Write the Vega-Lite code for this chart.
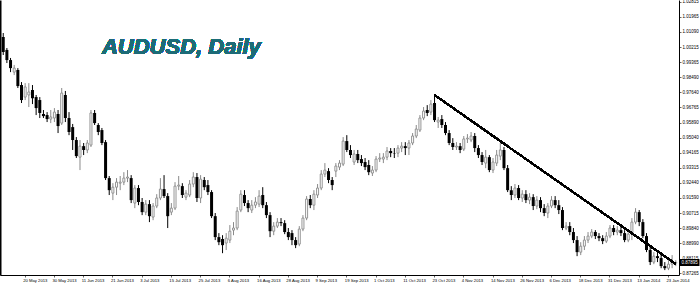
{
"$schema":"https://vega.github.io/schema/vega-lite/v6.json",
"width":679,"height":275,
"autosize":{"type":"none"},
"padding":{"left":0,"top":0,"right":21,"bottom":10},
"background":"white",
"config":{"view":{"stroke":null}},
"data":{"values":[
{"d":"2013-05-10","o":1.0080,"h":1.0103,"l":0.9977,"c":0.9994},
{"d":"2013-05-13","o":1.0006,"h":1.0017,"l":0.9931,"c":0.9948},
{"d":"2013-05-14","o":0.9948,"h":0.9960,"l":0.9879,"c":0.9902},
{"d":"2013-05-15","o":0.9879,"h":0.9920,"l":0.9862,"c":0.9902},
{"d":"2013-05-16","o":0.9891,"h":0.9902,"l":0.9788,"c":0.9799},
{"d":"2013-05-17","o":0.9805,"h":0.9822,"l":0.9702,"c":0.9719},
{"d":"2013-05-20","o":0.9736,"h":0.9816,"l":0.9719,"c":0.9794},
{"d":"2013-05-21","o":0.9748,"h":0.9816,"l":0.9679,"c":0.9765},
{"d":"2013-05-22","o":0.9776,"h":0.9805,"l":0.9696,"c":0.9730},
{"d":"2013-05-23","o":0.9736,"h":0.9748,"l":0.9633,"c":0.9673},
{"d":"2013-05-24","o":0.9719,"h":0.9736,"l":0.9616,"c":0.9645},
{"d":"2013-05-27","o":0.9639,"h":0.9662,"l":0.9616,"c":0.9627},
{"d":"2013-05-28","o":0.9633,"h":0.9650,"l":0.9593,"c":0.9610},
{"d":"2013-05-29","o":0.9610,"h":0.9662,"l":0.9587,"c":0.9622},
{"d":"2013-05-30","o":0.9616,"h":0.9673,"l":0.9593,"c":0.9650},
{"d":"2013-05-31","o":0.9639,"h":0.9662,"l":0.9530,"c":0.9570},
{"d":"2013-06-03","o":0.9587,"h":0.9788,"l":0.9576,"c":0.9759},
{"d":"2013-06-04","o":0.9748,"h":0.9771,"l":0.9593,"c":0.9616},
{"d":"2013-06-05","o":0.9616,"h":0.9650,"l":0.9518,"c":0.9536},
{"d":"2013-06-06","o":0.9564,"h":0.9582,"l":0.9433,"c":0.9490},
{"d":"2013-06-07","o":0.9490,"h":0.9507,"l":0.9387,"c":0.9398},
{"d":"2013-06-10","o":0.9392,"h":0.9490,"l":0.9318,"c":0.9455},
{"d":"2013-06-11","o":0.9455,"h":0.9473,"l":0.9404,"c":0.9433},
{"d":"2013-06-12","o":0.9433,"h":0.9490,"l":0.9415,"c":0.9473},
{"d":"2013-06-13","o":0.9461,"h":0.9662,"l":0.9450,"c":0.9645},
{"d":"2013-06-14","o":0.9645,"h":0.9662,"l":0.9576,"c":0.9587},
{"d":"2013-06-17","o":0.9576,"h":0.9587,"l":0.9518,"c":0.9536},
{"d":"2013-06-18","o":0.9547,"h":0.9559,"l":0.9461,"c":0.9473},
{"d":"2013-06-19","o":0.9478,"h":0.9490,"l":0.9261,"c":0.9272},
{"d":"2013-06-20","o":0.9272,"h":0.9284,"l":0.9175,"c":0.9203},
{"d":"2013-06-21","o":0.9186,"h":0.9243,"l":0.9146,"c":0.9220},
{"d":"2013-06-24","o":0.9220,"h":0.9272,"l":0.9175,"c":0.9249},
{"d":"2013-06-25","o":0.9243,"h":0.9284,"l":0.9203,"c":0.9249},
{"d":"2013-06-26","o":0.9249,"h":0.9306,"l":0.9232,"c":0.9272},
{"d":"2013-06-27","o":0.9272,"h":0.9318,"l":0.9249,"c":0.9278},
{"d":"2013-06-28","o":0.9272,"h":0.9289,"l":0.9129,"c":0.9146},
{"d":"2013-07-01","o":0.9129,"h":0.9232,"l":0.9100,"c":0.9215},
{"d":"2013-07-02","o":0.9215,"h":0.9232,"l":0.9117,"c":0.9135},
{"d":"2013-07-03","o":0.9135,"h":0.9158,"l":0.9060,"c":0.9077},
{"d":"2013-07-04","o":0.9077,"h":0.9146,"l":0.9060,"c":0.9123},
{"d":"2013-07-05","o":0.9123,"h":0.9146,"l":0.9020,"c":0.9054},
{"d":"2013-07-08","o":0.9049,"h":0.9129,"l":0.9031,"c":0.9112},
{"d":"2013-07-09","o":0.9112,"h":0.9180,"l":0.9100,"c":0.9158},
{"d":"2013-07-10","o":0.9158,"h":0.9272,"l":0.9146,"c":0.9209},
{"d":"2013-07-11","o":0.9209,"h":0.9289,"l":0.9158,"c":0.9169},
{"d":"2013-07-12","o":0.9169,"h":0.9186,"l":0.8986,"c":0.9054},
{"d":"2013-07-15","o":0.9077,"h":0.9129,"l":0.9060,"c":0.9100},
{"d":"2013-07-16","o":0.9100,"h":0.9249,"l":0.9089,"c":0.9226},
{"d":"2013-07-17","o":0.9226,"h":0.9284,"l":0.9203,"c":0.9232},
{"d":"2013-07-18","o":0.9226,"h":0.9243,"l":0.9158,"c":0.9175},
{"d":"2013-07-19","o":0.9163,"h":0.9203,"l":0.9146,"c":0.9186},
{"d":"2013-07-22","o":0.9175,"h":0.9261,"l":0.9163,"c":0.9238},
{"d":"2013-07-23","o":0.9238,"h":0.9306,"l":0.9220,"c":0.9278},
{"d":"2013-07-24","o":0.9278,"h":0.9301,"l":0.9135,"c":0.9158},
{"d":"2013-07-25","o":0.9158,"h":0.9289,"l":0.9129,"c":0.9266},
{"d":"2013-07-26","o":0.9261,"h":0.9278,"l":0.9203,"c":0.9220},
{"d":"2013-07-29","o":0.9232,"h":0.9261,"l":0.9175,"c":0.9192},
{"d":"2013-07-30","o":0.9192,"h":0.9203,"l":0.9043,"c":0.9054},
{"d":"2013-07-31","o":0.9054,"h":0.9072,"l":0.8917,"c":0.8934},
{"d":"2013-08-01","o":0.8934,"h":0.8957,"l":0.8888,"c":0.8905},
{"d":"2013-08-02","o":0.8923,"h":0.8945,"l":0.8842,"c":0.8888},
{"d":"2013-08-05","o":0.8900,"h":0.8957,"l":0.8860,"c":0.8928},
{"d":"2013-08-06","o":0.8917,"h":0.9003,"l":0.8900,"c":0.8968},
{"d":"2013-08-07","o":0.8974,"h":0.9020,"l":0.8945,"c":0.8986},
{"d":"2013-08-08","o":0.8986,"h":0.9106,"l":0.8974,"c":0.9083},
{"d":"2013-08-09","o":0.9089,"h":0.9203,"l":0.9077,"c":0.9180},
{"d":"2013-08-12","o":0.9175,"h":0.9203,"l":0.9112,"c":0.9129},
{"d":"2013-08-13","o":0.9129,"h":0.9146,"l":0.9077,"c":0.9100},
{"d":"2013-08-14","o":0.9089,"h":0.9146,"l":0.9072,"c":0.9117},
{"d":"2013-08-15","o":0.9117,"h":0.9163,"l":0.9100,"c":0.9135},
{"d":"2013-08-16","o":0.9123,"h":0.9203,"l":0.9106,"c":0.9169},
{"d":"2013-08-19","o":0.9175,"h":0.9220,"l":0.9100,"c":0.9117},
{"d":"2013-08-20","o":0.9117,"h":0.9135,"l":0.9043,"c":0.9060},
{"d":"2013-08-21","o":0.9060,"h":0.9077,"l":0.8934,"c":0.8968},
{"d":"2013-08-22","o":0.8968,"h":0.9020,"l":0.8945,"c":0.8997},
{"d":"2013-08-23","o":0.8997,"h":0.9043,"l":0.8986,"c":0.9020},
{"d":"2013-08-26","o":0.9020,"h":0.9043,"l":0.8997,"c":0.9014},
{"d":"2013-08-27","o":0.9014,"h":0.9031,"l":0.8951,"c":0.8963},
{"d":"2013-08-28","o":0.8963,"h":0.8986,"l":0.8917,"c":0.8934},
{"d":"2013-08-29","o":0.8957,"h":0.8974,"l":0.8888,"c":0.8917},
{"d":"2013-08-30","o":0.8917,"h":0.8934,"l":0.8871,"c":0.8888},
{"d":"2013-09-02","o":0.8894,"h":0.8997,"l":0.8882,"c":0.8980},
{"d":"2013-09-03","o":0.8980,"h":0.9060,"l":0.8968,"c":0.9043},
{"d":"2013-09-04","o":0.9043,"h":0.9169,"l":0.9031,"c":0.9152},
{"d":"2013-09-05","o":0.9152,"h":0.9175,"l":0.9100,"c":0.9117},
{"d":"2013-09-06","o":0.9117,"h":0.9203,"l":0.9089,"c":0.9180},
{"d":"2013-09-09","o":0.9175,"h":0.9238,"l":0.9158,"c":0.9215},
{"d":"2013-09-10","o":0.9215,"h":0.9318,"l":0.9203,"c":0.9295},
{"d":"2013-09-11","o":0.9295,"h":0.9358,"l":0.9278,"c":0.9318},
{"d":"2013-09-12","o":0.9312,"h":0.9329,"l":0.9243,"c":0.9261},
{"d":"2013-09-13","o":0.9261,"h":0.9278,"l":0.9203,"c":0.9232},
{"d":"2013-09-16","o":0.9312,"h":0.9358,"l":0.9278,"c":0.9341},
{"d":"2013-09-17","o":0.9335,"h":0.9375,"l":0.9318,"c":0.9358},
{"d":"2013-09-18","o":0.9352,"h":0.9507,"l":0.9341,"c":0.9484},
{"d":"2013-09-19","o":0.9484,"h":0.9518,"l":0.9421,"c":0.9433},
{"d":"2013-09-20","o":0.9433,"h":0.9461,"l":0.9387,"c":0.9404},
{"d":"2013-09-23","o":0.9364,"h":0.9433,"l":0.9347,"c":0.9410},
{"d":"2013-09-24","o":0.9410,"h":0.9433,"l":0.9358,"c":0.9375},
{"d":"2013-09-25","o":0.9381,"h":0.9404,"l":0.9341,"c":0.9358},
{"d":"2013-09-26","o":0.9364,"h":0.9387,"l":0.9318,"c":0.9335},
{"d":"2013-09-27","o":0.9347,"h":0.9375,"l":0.9289,"c":0.9306},
{"d":"2013-09-30","o":0.9301,"h":0.9341,"l":0.9284,"c":0.9318},
{"d":"2013-10-01","o":0.9318,"h":0.9398,"l":0.9306,"c":0.9381},
{"d":"2013-10-02","o":0.9381,"h":0.9415,"l":0.9364,"c":0.9387},
{"d":"2013-10-03","o":0.9381,"h":0.9415,"l":0.9358,"c":0.9392},
{"d":"2013-10-04","o":0.9392,"h":0.9450,"l":0.9375,"c":0.9427},
{"d":"2013-10-07","o":0.9427,"h":0.9444,"l":0.9392,"c":0.9415},
{"d":"2013-10-08","o":0.9415,"h":0.9444,"l":0.9387,"c":0.9413},
{"d":"2013-10-09","o":0.9415,"h":0.9461,"l":0.9392,"c":0.9444},
{"d":"2013-10-10","o":0.9444,"h":0.9478,"l":0.9421,"c":0.9455},
{"d":"2013-10-11","o":0.9455,"h":0.9478,"l":0.9404,"c":0.9444},
{"d":"2013-10-14","o":0.9444,"h":0.9490,"l":0.9404,"c":0.9473},
{"d":"2013-10-15","o":0.9473,"h":0.9530,"l":0.9461,"c":0.9513},
{"d":"2013-10-16","o":0.9513,"h":0.9576,"l":0.9501,"c":0.9553},
{"d":"2013-10-17","o":0.9547,"h":0.9633,"l":0.9536,"c":0.9616},
{"d":"2013-10-18","o":0.9616,"h":0.9679,"l":0.9604,"c":0.9656},
{"d":"2013-10-21","o":0.9662,"h":0.9690,"l":0.9627,"c":0.9645},
{"d":"2013-10-22","o":0.9650,"h":0.9719,"l":0.9633,"c":0.9696},
{"d":"2013-10-23","o":0.9702,"h":0.9748,"l":0.9593,"c":0.9604},
{"d":"2013-10-24","o":0.9593,"h":0.9622,"l":0.9559,"c":0.9604},
{"d":"2013-10-25","o":0.9610,"h":0.9633,"l":0.9559,"c":0.9576},
{"d":"2013-10-28","o":0.9576,"h":0.9593,"l":0.9518,"c":0.9530},
{"d":"2013-10-29","o":0.9530,"h":0.9547,"l":0.9461,"c":0.9473},
{"d":"2013-10-30","o":0.9473,"h":0.9501,"l":0.9433,"c":0.9450},
{"d":"2013-10-31","o":0.9450,"h":0.9478,"l":0.9433,"c":0.9455},
{"d":"2013-11-01","o":0.9455,"h":0.9473,"l":0.9415,"c":0.9433},
{"d":"2013-11-04","o":0.9438,"h":0.9513,"l":0.9427,"c":0.9496},
{"d":"2013-11-05","o":0.9496,"h":0.9524,"l":0.9473,"c":0.9501},
{"d":"2013-11-06","o":0.9490,"h":0.9536,"l":0.9478,"c":0.9513},
{"d":"2013-11-07","o":0.9513,"h":0.9530,"l":0.9421,"c":0.9444},
{"d":"2013-11-08","o":0.9444,"h":0.9461,"l":0.9387,"c":0.9404},
{"d":"2013-11-11","o":0.9404,"h":0.9421,"l":0.9347,"c":0.9364},
{"d":"2013-11-12","o":0.9358,"h":0.9433,"l":0.9329,"c":0.9392},
{"d":"2013-11-13","o":0.9392,"h":0.9404,"l":0.9306,"c":0.9318},
{"d":"2013-11-14","o":0.9318,"h":0.9387,"l":0.9301,"c":0.9364},
{"d":"2013-11-15","o":0.9358,"h":0.9433,"l":0.9341,"c":0.9404},
{"d":"2013-11-18","o":0.9398,"h":0.9473,"l":0.9375,"c":0.9433},
{"d":"2013-11-19","o":0.9433,"h":0.9450,"l":0.9318,"c":0.9329},
{"d":"2013-11-20","o":0.9329,"h":0.9347,"l":0.9192,"c":0.9203},
{"d":"2013-11-21","o":0.9203,"h":0.9226,"l":0.9146,"c":0.9175},
{"d":"2013-11-22","o":0.9175,"h":0.9238,"l":0.9158,"c":0.9215},
{"d":"2013-11-25","o":0.9215,"h":0.9232,"l":0.9146,"c":0.9158},
{"d":"2013-11-26","o":0.9158,"h":0.9203,"l":0.9135,"c":0.9180},
{"d":"2013-11-27","o":0.9180,"h":0.9203,"l":0.9129,"c":0.9146},
{"d":"2013-11-28","o":0.9146,"h":0.9186,"l":0.9123,"c":0.9163},
{"d":"2013-11-29","o":0.9163,"h":0.9180,"l":0.9089,"c":0.9112},
{"d":"2013-12-02","o":0.9112,"h":0.9169,"l":0.9094,"c":0.9146},
{"d":"2013-12-03","o":0.9146,"h":0.9163,"l":0.9077,"c":0.9100},
{"d":"2013-12-04","o":0.9100,"h":0.9123,"l":0.9054,"c":0.9072},
{"d":"2013-12-05","o":0.9072,"h":0.9129,"l":0.9043,"c":0.9112},
{"d":"2013-12-06","o":0.9112,"h":0.9169,"l":0.9100,"c":0.9146},
{"d":"2013-12-09","o":0.9146,"h":0.9169,"l":0.9100,"c":0.9117},
{"d":"2013-12-10","o":0.9117,"h":0.9146,"l":0.9066,"c":0.9089},
{"d":"2013-12-11","o":0.9089,"h":0.9106,"l":0.8974,"c":0.8986},
{"d":"2013-12-12","o":0.8986,"h":0.9020,"l":0.8974,"c":0.8997},
{"d":"2013-12-13","o":0.8997,"h":0.9020,"l":0.8945,"c":0.8963},
{"d":"2013-12-16","o":0.8963,"h":0.8986,"l":0.8900,"c":0.8917},
{"d":"2013-12-17","o":0.8917,"h":0.8940,"l":0.8825,"c":0.8848},
{"d":"2013-12-18","o":0.8848,"h":0.8905,"l":0.8831,"c":0.8882},
{"d":"2013-12-19","o":0.8882,"h":0.8940,"l":0.8860,"c":0.8917},
{"d":"2013-12-20","o":0.8917,"h":0.8963,"l":0.8900,"c":0.8940},
{"d":"2013-12-23","o":0.8940,"h":0.8980,"l":0.8928,"c":0.8963},
{"d":"2013-12-24","o":0.8963,"h":0.8974,"l":0.8923,"c":0.8940},
{"d":"2013-12-26","o":0.8940,"h":0.8957,"l":0.8911,"c":0.8928},
{"d":"2013-12-27","o":0.8928,"h":0.8945,"l":0.8894,"c":0.8911},
{"d":"2013-12-30","o":0.8911,"h":0.8963,"l":0.8900,"c":0.8940},
{"d":"2013-12-31","o":0.8940,"h":0.9003,"l":0.8928,"c":0.8986},
{"d":"2014-01-02","o":0.8986,"h":0.9003,"l":0.8945,"c":0.8963},
{"d":"2014-01-03","o":0.8963,"h":0.8997,"l":0.8945,"c":0.8974},
{"d":"2014-01-06","o":0.8974,"h":0.8991,"l":0.8940,"c":0.8957},
{"d":"2014-01-07","o":0.8957,"h":0.8974,"l":0.8905,"c":0.8917},
{"d":"2014-01-08","o":0.8917,"h":0.8974,"l":0.8905,"c":0.8951},
{"d":"2014-01-09","o":0.8951,"h":0.9043,"l":0.8917,"c":0.9020},
{"d":"2014-01-10","o":0.9020,"h":0.9100,"l":0.9008,"c":0.9077},
{"d":"2014-01-13","o":0.9077,"h":0.9089,"l":0.8997,"c":0.9020},
{"d":"2014-01-14","o":0.9020,"h":0.9037,"l":0.8928,"c":0.8940},
{"d":"2014-01-15","o":0.8940,"h":0.8957,"l":0.8848,"c":0.8860},
{"d":"2014-01-16","o":0.8860,"h":0.8877,"l":0.8774,"c":0.8791},
{"d":"2014-01-17","o":0.8791,"h":0.8848,"l":0.8779,"c":0.8825},
{"d":"2014-01-20","o":0.8825,"h":0.8860,"l":0.8791,"c":0.8814},
{"d":"2014-01-21","o":0.8814,"h":0.8837,"l":0.8756,"c":0.8768},
{"d":"2014-01-22","o":0.8768,"h":0.8791,"l":0.8745,"c":0.8756},
{"d":"2014-01-23","o":0.8756,"h":0.8814,"l":0.8745,"c":0.8779},
{"d":"2014-01-24","o":0.8779,"h":0.8831,"l":0.8756,"c":0.8791},
{"d":"2014-01-27","o":0.8785,"h":0.8802,"l":0.8768,"c":0.87895}
]},
"layer":[
{"mark":{"type":"rule","strokeWidth":1},
 "encoding":{
  "x":{"field":"d","type":"ordinal","sort":"ascending",
       "scale":{"type":"band","paddingInner":0,"paddingOuter":0.385},
       "axis":{"orient":"bottom","title":null,"values":["2013-05-20","2013-05-30","2013-06-11","2013-06-21","2013-07-03","2013-07-15","2013-07-25","2013-08-06","2013-08-16","2013-08-28","2013-09-09","2013-09-19","2013-10-01","2013-10-11","2013-10-23","2013-11-04","2013-11-14","2013-11-26","2013-12-06","2013-12-18","2013-12-31","2014-01-13","2014-01-23"],
        "labelExpr":"utcFormat(toDate(datum.value), '%-d %b %Y')",
        "labelAngle":0,"labelAlign":"left","labelBaseline":"top","labelOffset":-2,"labelPadding":1,"labelOverlap":false,
        "labelFont":"Liberation Sans","labelFontSize":4.2,"labelColor":"#000000",
        "ticks":true,"tickSize":2,"tickColor":"#000000","tickWidth":0.6,
        "domain":true,"domainColor":"#000000","domainWidth":1,"grid":false}},
  "y":{"field":"l","type":"quantitative",
       "scale":{"domain":[0.8717,1.0292],"nice":false,"zero":false},
       "axis":{"orient":"left","title":null,"labels":false,"ticks":false,"grid":false,"domain":true,"domainColor":"#000000","domainWidth":2}},
  "y2":{"field":"h"},
  "color":{"condition":{"test":"datum.c >= datum.o","value":"#8a8a8a"},"value":"#000000"}
 }},
{"transform":[{"filter":"datum.c >= datum.o"}],
 "mark":{"type":"bar","size":2,"fill":"#ffffff","stroke":"#8a8a8a","strokeWidth":0.9},
 "encoding":{
  "x":{"field":"d","type":"ordinal","sort":"ascending"},
  "y":{"field":"o","type":"quantitative",
       "axis":{"orient":"right","title":null,"values":[1.02815,1.01965,1.0109,1.00215,0.99365,0.9849,0.9764,0.96765,0.9589,0.9504,0.94165,0.93315,0.9244,0.9159,0.90715,0.8984,0.8899,0.88115,0.87265],
        "format":".5f","labelFont":"Liberation Sans","labelFontSize":4.5,"labelColor":"#000000","labelPadding":1,
        "ticks":true,"tickSize":2,"tickColor":"#000000","tickWidth":0.6,"domain":true,"domainColor":"#000000","domainWidth":1,"grid":false,"labelOverlap":false}},
  "y2":{"field":"c"}
 }},
{"transform":[{"filter":"datum.c < datum.o"}],
 "mark":{"type":"bar","size":3,"fill":"#000000"},
 "encoding":{
  "x":{"field":"d","type":"ordinal","sort":"ascending"},
  "y":{"field":"o","type":"quantitative","axis":null},
  "y2":{"field":"c"}
 }},
{"mark":{"type":"rule","color":"#000000","strokeWidth":1.3},
 "encoding":{
  "x":{"datum":"2013-10-23","type":"ordinal"},
  "x2":{"datum":"2014-01-27"},
  "y":{"datum":0.9748,"type":"quantitative","axis":null},
  "y2":{"datum":0.8780}
 }},
{"mark":{"type":"text","text":"AUDUSD, Daily","align":"left","baseline":"alphabetic","font":"Liberation Sans","fontSize":22,"fontWeight":"bold","fontStyle":"italic","fill":"#1d6b77"},
 "encoding":{
  "x":{"datum":"2013-06-18","type":"ordinal"},
  "y":{"datum":0.9985,"type":"quantitative","axis":null}
 }},
{"mark":{"type":"rule","opacity":0},
 "encoding":{
  "y":{"datum":0.87895,"type":"quantitative",
       "axis":{"orient":"right","title":null,"values":[0.87895],"format":".5f","domain":false,"grid":false,
        "ticks":true,"tickSize":20,"tickWidth":7,"tickColor":"#000000",
        "labelColor":"#ffffff","labelFont":"Liberation Sans","labelFontSize":4.5,"labelPadding":-18,"zindex":3}}
 }}
],
"resolve":{"axis":{"y":"independent"}}
}
